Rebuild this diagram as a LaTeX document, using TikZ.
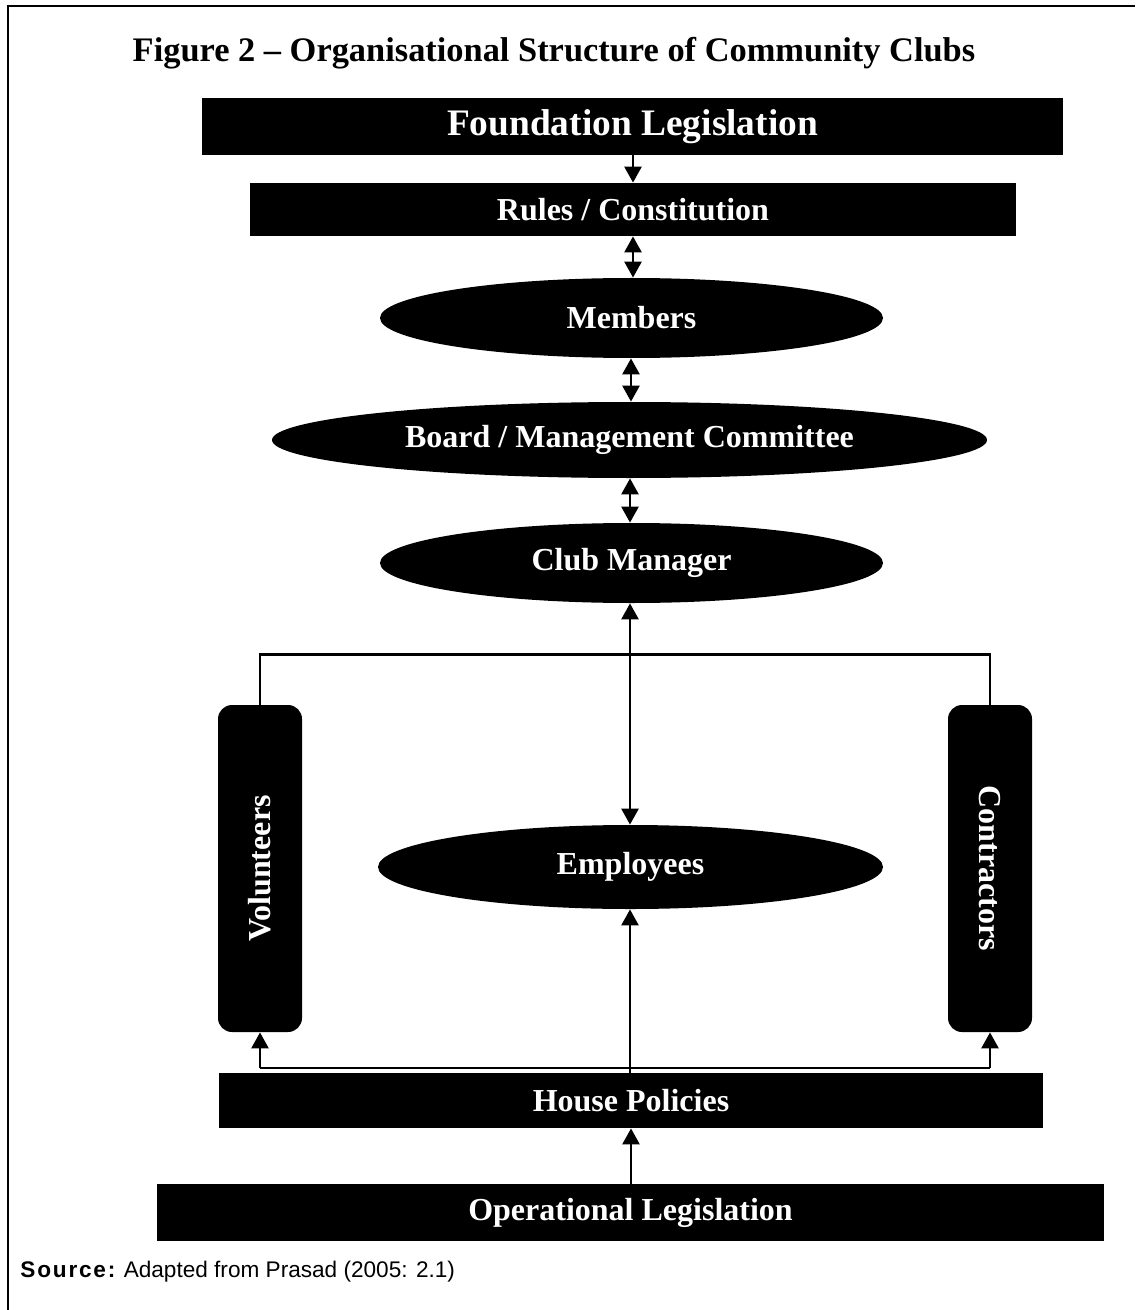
\documentclass[tikz,border=0pt]{standalone}
\usepackage{fontspec}
\setmainfont{Liberation Serif}
\newfontfamily\srcfont{Liberation Sans}
\usetikzlibrary{shapes.geometric,arrows.meta}

\begin{document}
\begin{tikzpicture}[x=0.5pt,y=-0.5pt,
  blk/.style={fill=black,text=white,inner sep=0pt,
    font=\fontsize{16}{19}\selectfont\bfseries},
  bar/.style={blk,rectangle},
  oval/.style={blk,ellipse},
  pillar/.style={blk,rectangle,rounded corners=7pt,minimum width=42pt,minimum height=163.5pt},
  tip/.tip={Triangle[width=8.5pt,length=8pt]},
  link/.style={line width=1.3pt},
  oneway/.style={link,-tip},
  twoway/.style={link,tip-tip}]

\useasboundingbox (0,0) rectangle (1135,1310);

% frame
\draw[line width=1.1pt] (8,1310) -- (8,6) -- (1135,6);

% title
\node[font=\fontsize{17.2}{20}\selectfont\bfseries] (title) at (554,53)
  {Figure 2 -- Organisational Structure of Community Clubs};

% levels of the structure
\node[bar,minimum width=430.5pt,minimum height=28.5pt,font=\fontsize{18.7}{22}\selectfont\bfseries] (found) at (632.5,126.5) {Foundation Legislation};
\node[bar,minimum width=383pt,minimum height=26.5pt] (rules) at (633,209.5) {Rules / Constitution};
\node[oval,minimum width=251.5pt,minimum height=40pt] (members) at (631.5,318) {Members};
\node[oval,minimum width=357.5pt,minimum height=38pt] (board) at (629.5,440) {Board / Management Committee};
\node[oval,minimum width=251.5pt,minimum height=40pt] (manager) at (631.5,563) {Club Manager};
\node[oval,minimum width=252.5pt,minimum height=42pt] (employees) at (630.5,867) {Employees};
\node[pillar] (volunteers) at (260,868.5) {\rotatebox{90}{Volunteers}};
\node[pillar] (contractors) at (990,868.5) {\rotatebox{-90}{Contractors}};
\node[bar,minimum width=412pt,minimum height=27.5pt] (house) at (631,1100.5) {House Policies};
\node[bar,minimum width=473.5pt,minimum height=28.5pt] (oper) at (630.5,1212.5) {Operational Legislation};

% source line
\node[anchor=west,inner sep=0pt,font=\srcfont\fontsize{11.3}{14}\selectfont] (source) at (20,1272)
  {{\bfseries\addfontfeature{LetterSpace=8}Source:} Adapted from Prasad (2005: 2.1)};

% connectors
\draw[oneway] (found.south -| 633,0) -- (rules.north -| 633,0);
\draw[twoway] (rules.south -| 633,0) -- (members.north -| 633,0);
\draw[twoway] (members.south -| 631,0) -- (board.north -| 631,0);
\draw[twoway] (board.south -| 630,0) -- (manager.north -| 630,0);
\draw[twoway] (manager.south -| 630,0) -- (employees.north -| 630,0);
\draw[link] (volunteers.north) -- ++(0,-50) -| (contractors.north);
\draw[oneway] (house.north -| 630,0) -- (employees.south -| 630,0);
\coordinate (busL) at (260,1068);
\coordinate (busR) at (990,1068);
\draw[link] (busL) -- (busR);
\draw[oneway] (busL) -- (volunteers.south);
\draw[oneway] (busR) -- (contractors.south);
\draw[oneway] (oper.north -| 631,0) -- (house.south -| 631,0);

\end{tikzpicture}
\end{document}
